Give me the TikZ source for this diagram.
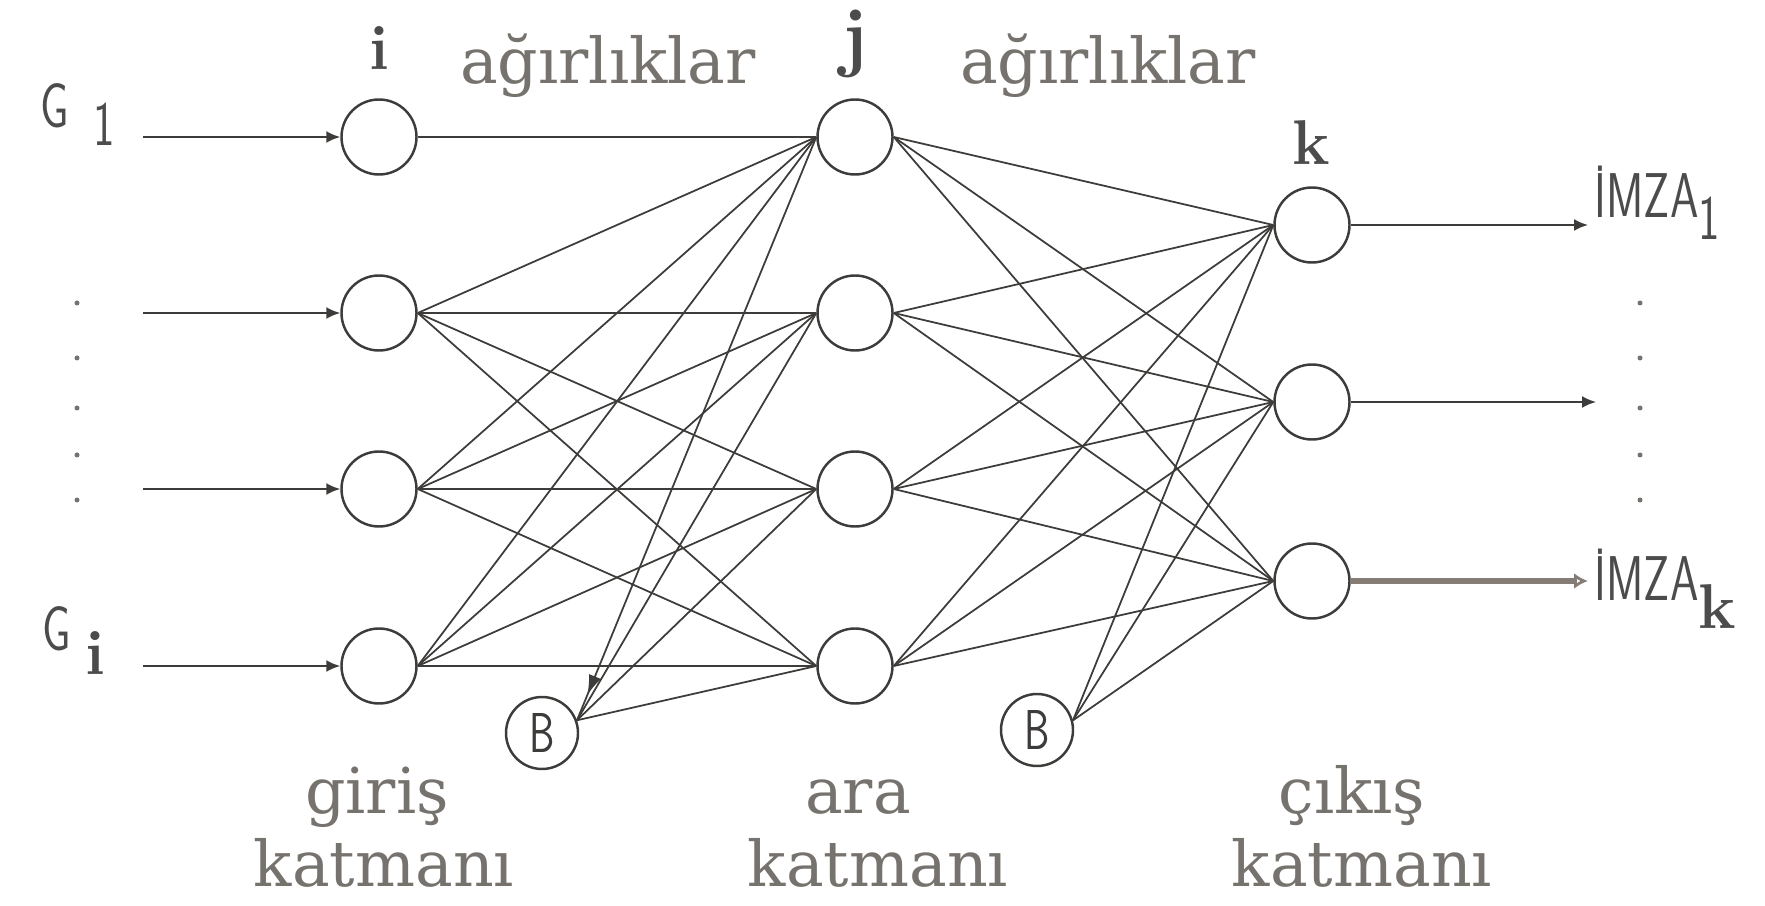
\documentclass[tikz,border=0pt]{standalone}
\usepackage{fontspec}
\usepackage{xcolor}
\usepackage{graphicx}
\usetikzlibrary{arrows.meta, decorations.markings}

\newfontfamily\wordfont{DejaVu Serif}
\definecolor{inkgray}{RGB}{62,60,58}
\definecolor{labelgray}{RGB}{118,114,110}
\definecolor{taupe}{RGB}{133,124,118}
\newcommand{\narrowsf}[1]{\scalebox{0.72}[1]{\sffamily #1}}

\begin{document}
\begin{tikzpicture}[
  x=0.1mm, y=-0.1mm,
  neuron/.style   = {draw=inkgray, circle, line width=0.7pt, minimum size=7.5mm, inner sep=0pt},
  bias/.style     = {draw=inkgray, circle, line width=0.7pt, minimum size=7.2mm, inner sep=0pt,
                     font=\fontsize{16}{16}\selectfont, text=inkgray},
  word/.style     = {text=labelgray, font=\fontsize{18}{18}\selectfont\wordfont, anchor=base, inner sep=0pt},
  layerlbl/.style = {text=black!70, font=\fontsize{18}{18}\selectfont\bfseries, anchor=base, inner sep=0pt},
  sig/.style      = {text=black!70, font=\fontsize{18}{18}\selectfont, anchor=base west, inner sep=0pt},
  link/.style     = {draw=inkgray, line width=0.5pt},
  >={Latex[length=1.4mm, width=1.2mm]}
]
  \useasboundingbox (0,0) rectangle (1765,906);

  % layers
  \foreach \n/\y in {1/137, 2/313, 3/489, 4/666} {
    \node[neuron] (I\n) at (379,\y) {};
    \node[neuron] (H\n) at (855,\y) {};
    \coordinate (in\n) at (143,\y);
    \draw[link, line width=0.6pt, ->] (in\n) -- (I\n.west);
  }
  \foreach \n/\y in {1/225, 2/402, 3/581}
    \node[neuron] (O\n) at (1312,\y) {};
  \node[bias] (B1) at (542,733) {\narrowsf{B}};
  \node[bias] (B2) at (1037,730) {\narrowsf{B}};

  % weights
  \draw[link] (I1.east) -- (H1.west);
  \foreach \i in {2,3,4}
    \foreach \h in {1,...,4}
      \draw[link] (I\i.east) -- (H\h.west);
  \draw[link, postaction={decorate}, decoration={markings,
        mark=at position 0.075 with {\arrow{Latex[reversed, length=2mm, width=1.3mm]}}}]
        (B1.20) -- (H1.west);
  \foreach \h in {2,3,4}
    \draw[link] (B1.20) -- (H\h.west);
  \foreach \h in {1,...,4}
    \foreach \o in {1,2,3}
      \draw[link] (H\h.east) -- (O\o.west);
  \foreach \o in {1,2,3}
    \draw[link] (B2.15) -- (O\o.west);

  % outputs
  \coordinate (out1) at (1588,225);
  \coordinate (out2) at (1596,402);
  \coordinate (out3) at (1588,581);
  \draw[link, line width=0.6pt, ->] (O1.east) -- (out1);
  \draw[link, line width=0.6pt, ->] (O2.east) -- (out2);
  \draw[draw=taupe, line width=1.8pt, -{Latex[length=1.4mm, width=1.6mm, open]}] (O3.east) -- (out3);

  % dots
  \foreach \y in {303, 358, 408, 455, 500} {
    \fill[labelgray] (77,\y) circle (0.25mm);
    \fill[labelgray] (1640,\y) circle (0.25mm);
  }

  % labels
  \node[sig] (g1) at (40,128) {\narrowsf{G}\hspace{7pt}\raisebox{-5pt}{\narrowsf{1}}};
  \node[sig] (gi) at (42,650) {\narrowsf{G}\hspace{4pt}\raisebox{-7pt}{\fontsize{18}{18}\selectfont\bfseries i}};
  \node[sig] (imza1) at (1594,218) {\narrowsf{İMZA}\raisebox{-6pt}{\narrowsf{1}}};
  \node[sig] (imzak) at (1594,600) {\narrowsf{İMZA}\raisebox{-8pt}{\fontsize{18}{18}\selectfont\bfseries k}};

  \node[layerlbl] (li) at (379,70)  {i};
  \node[layerlbl, font=\fontsize{22}{22}\selectfont\bfseries] (lj) at (855,63)  {j};
  \node[layerlbl] (lk) at (1311,165) {k};
  \node[word] (w1) at (608,84)  {ağırlıklar};
  \node[word] (w2) at (1108,84) {ağırlıklar};

  \node[word] (gir)  at (377,813)  {giriş};
  \node[word] (gir2) at (384,886)  {katmanı};
  \node[word] (ara)  at (858,813)  {ara};
  \node[word] (ara2) at (878,886)  {katmanı};
  \node[word] (cik)  at (1352,813) {çıkış};
  \node[word] (cik2) at (1362,886) {katmanı};
\end{tikzpicture}
\end{document}
